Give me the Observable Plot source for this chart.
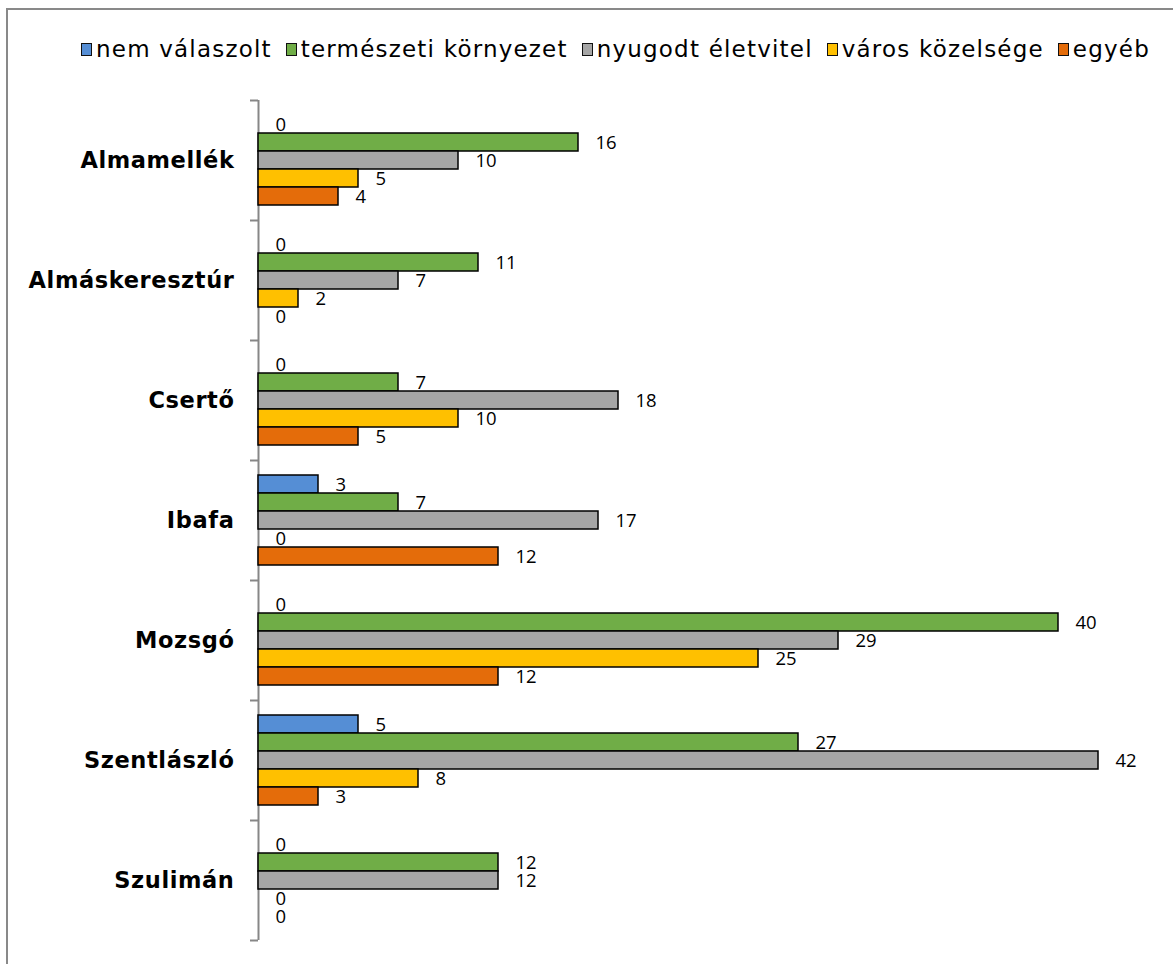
<!DOCTYPE html>
<html><head><meta charset="utf-8">
<script src="https://cdn.jsdelivr.net/npm/d3@7"></script>
<script src="https://cdn.jsdelivr.net/npm/@observablehq/plot@0.6"></script>
<style>
html,body{margin:0;padding:0;background:#fff;overflow:hidden;}
#frame{position:absolute;left:6px;top:8px;width:1300px;height:1100px;border-top:2px solid #898989;border-left:2px solid #898989;background:#fff;}
#legend{height:70px;box-sizing:border-box;padding-top:8px;padding-left:73px;display:flex;align-items:center;font-family:"DejaVu Sans";font-size:23px;letter-spacing:1.2px;line-height:26px;color:#000;white-space:nowrap;}
.item{display:flex;align-items:center;margin-right:14px;}
.sw{width:9px;height:11px;border:1.5px solid #111;margin-right:4px;}
#chart svg g[aria-label="fy-axis tick label"] text{letter-spacing:0.6px;}
</style></head><body><div id="frame"><div id="legend"></div><div id="chart"></div></div>
<script>
const categories = ["Almamellék","Almáskeresztúr","Csertő","Ibafa","Mozsgó","Szentlászló","Szulimán"];
const series = ["nem válaszolt","természeti környezet","nyugodt életvitel","város közelsége","egyéb"];
const colors = ["#558ED5","#70AD47","#A6A6A6","#FFC000","#E46C0A"];
const nemValaszolt = [0,0,0,3,0,5,0];
const termeszetiKornyezet = [16,11,7,7,40,27,12];
const nyugodtEletvitel = [10,7,18,17,29,42,12];
const varosKozelsege = [5,2,10,0,25,8,0];
const egyeb = [4,0,5,12,12,3,0];

const seriesValues = [nemValaszolt, termeszetiKornyezet, nyugodtEletvitel, varosKozelsege, egyeb];
const data = [];
categories.forEach((cat, i) => {
  series.forEach((s, j) => data.push({cat, series: s, value: seriesValues[j][i]}));
});

// legend
const legend = document.getElementById("legend");
series.forEach((s, j) => {
  const it = document.createElement("div"); it.className = "item";
  const sw = document.createElement("div"); sw.className = "sw"; sw.style.background = colors[j];
  const tx = document.createElement("span"); tx.textContent = s;
  it.appendChild(sw); it.appendChild(tx); legend.appendChild(it);
});

const facetH = 120;
const axisGray = "#878787";
const chart = Plot.plot({
  width: 1165,
  height: 20 + categories.length * facetH + 24,
  marginTop: 20, marginBottom: 24, marginLeft: 250, marginRight: 15,
  style: {fontFamily: "DejaVu Sans", background: "transparent"},
  x: {domain: [0, 45], axis: null},
  y: {domain: series, axis: null, paddingInner: 0, paddingOuter: 0.74},
  fy: {domain: categories, padding: 0, label: null},
  color: {domain: series, range: colors},
  marks: [
    Plot.ruleX([0], {stroke: axisGray, strokeWidth: 2}),
    Plot.axisFy({anchor: "left", tickSize: 8, text: null, dy: -facetH / 2, stroke: axisGray, strokeWidth: 2, label: null}),
    Plot.axisFy({anchor: "left", ticks: [categories[categories.length - 1]], tickSize: 8, text: null, dy: facetH / 2, stroke: axisGray, strokeWidth: 2, label: null}),
    Plot.axisFy({anchor: "left", tickSize: 0, tickPadding: 24, fontSize: 22.5, fontWeight: "bold", fill: "#000", label: null}),
    Plot.barX(data.filter(d => d.value > 0), {fy: "cat", y: "series", x: "value", fill: "series", stroke: "#000", strokeWidth: 1.5}),
    Plot.text(data, {fy: "cat", y: "series", x: "value", text: d => String(d.value), textAnchor: "start", dx: 17, dy: 1, fontSize: 18.5, fontFamily: "Open Sans", fill: "#000"})
  ]
});
document.getElementById("chart").appendChild(chart);
</script></body></html>
